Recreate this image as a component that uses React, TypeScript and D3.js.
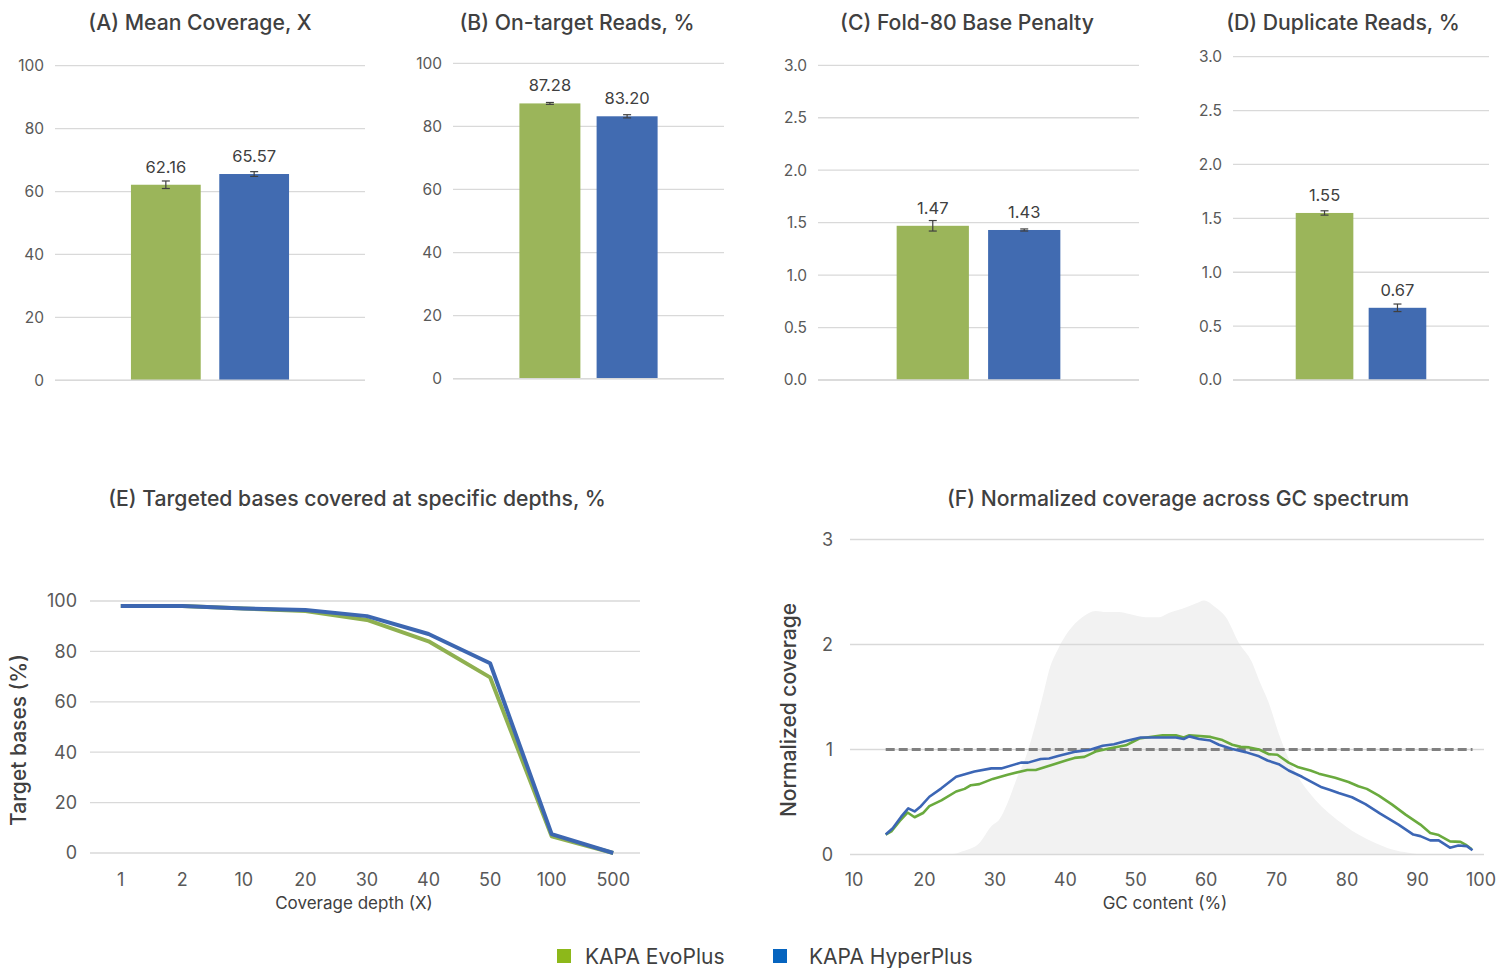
import React from 'react';
import * as d3 from 'd3';

// ---------- DATA ----------
const seriesNames = ['KAPA EvoPlus', 'KAPA HyperPlus'];

const meanCoverage = [62.16, 65.57];
const meanCoverageErr = [1.2, 0.75];
const onTargetReads = [87.28, 83.2];
const onTargetErr = [0.3, 0.5];
const fold80Penalty = [1.47, 1.43];
const fold80Err = [0.05, 0.01];
const duplicateReads = [1.55, 0.67];
const duplicateErr = [0.02, 0.035];

const ticks100 = [0, 20, 40, 60, 80, 100];
const ticks3 = [0, 0.5, 1, 1.5, 2, 2.5, 3];

const depthLabels = ['1', '2', '10', '20', '30', '40', '50', '100', '500'];
const depthEvoPlus = [98, 98, 97, 96, 92.5, 84, 69.7, 6.6, 0];
const depthHyperPlus = [98, 98, 97, 96.4, 94, 86.9, 75.3, 7.5, 0];

const gcTicks = [10, 20, 30, 40, 50, 60, 70, 80, 90, 100];
const normTicks = [0, 1, 2, 3];

const gcEvoPlusX = [14.5, 15.3, 16.5, 17.6, 18.6, 19.8, 20.7, 22.4, 24.5, 25.7, 26.6, 27.8, 29.7, 31.8, 34.6, 35.8, 38.4, 40.3, 41.3, 42.7, 44.3, 46.2, 48.6, 50.5, 53.8, 55.7, 56.8, 57.6, 60.6, 62.3, 63.7, 64.9, 66.1, 67.5, 68.9, 70.1, 71.7, 73.1, 74.8, 76.0, 78.3, 80.2, 81.6, 82.8, 84.5, 86.4, 88.3, 90.4, 91.8, 93.0, 94.6, 96.1, 96.8, 97.7];
const gcEvoPlusY = [0.19, 0.22, 0.32, 0.4, 0.355, 0.395, 0.46, 0.515, 0.6, 0.625, 0.66, 0.67, 0.72, 0.76, 0.805, 0.805, 0.86, 0.9, 0.92, 0.93, 0.98, 1.01, 1.04, 1.105, 1.135, 1.135, 1.115, 1.135, 1.12, 1.09, 1.045, 1.025, 1.02, 1.0, 0.955, 0.95, 0.875, 0.83, 0.8, 0.77, 0.73, 0.69, 0.65, 0.625, 0.56, 0.475, 0.38, 0.285, 0.205, 0.185, 0.125, 0.12, 0.095, 0.05];

const gcHyperPlusX = [14.5, 15.5, 16.7, 17.7, 18.6, 19.5, 20.7, 22.4, 24.5, 27.1, 29.5, 30.9, 33.7, 34.7, 36.5, 37.7, 39.1, 41.5, 43.4, 45.3, 46.9, 48.6, 50.7, 53.3, 55.7, 56.8, 57.6, 59.0, 60.6, 61.8, 63.7, 65.6, 67.5, 68.7, 70.3, 71.7, 73.6, 76.4, 77.6, 78.8, 80.7, 82.6, 84.7, 87.3, 89.4, 90.4, 91.8, 93.0, 94.6, 95.8, 97.0, 97.8];
const gcHyperPlusY = [0.19, 0.25, 0.36, 0.44, 0.41, 0.46, 0.55, 0.63, 0.74, 0.79, 0.82, 0.82, 0.875, 0.875, 0.91, 0.915, 0.94, 0.98, 0.995, 1.035, 1.05, 1.08, 1.115, 1.115, 1.115, 1.1, 1.125, 1.1, 1.085, 1.045, 1.005, 0.975, 0.935, 0.895, 0.86, 0.8, 0.74, 0.64, 0.615, 0.585, 0.545, 0.48, 0.39, 0.285, 0.19, 0.175, 0.135, 0.135, 0.065, 0.085, 0.08, 0.04];

const gcDistX = [15, 20, 23.6, 25.4, 27.8, 29.5, 30.6, 31.8, 33.2, 34.4, 35.8, 37.0, 37.7, 39.1, 40.5, 42.4, 44.3, 45.8, 47.6, 49.1, 51.4, 53.3, 54.7, 56.6, 58.5, 59.7, 61.3, 62.8, 64.6, 66.5, 67.5, 68.9, 70.3, 72.2, 73.6, 75.5, 77.4, 79.8, 81.6, 84.0, 86.4, 88.7, 90.6, 98];
const gcDistY = [0, 0, 0, 0.03, 0.11, 0.27, 0.33, 0.49, 0.74, 0.93, 1.25, 1.565, 1.755, 1.975, 2.13, 2.26, 2.32, 2.31, 2.31, 2.29, 2.26, 2.26, 2.3, 2.34, 2.39, 2.42, 2.355, 2.26, 2.02, 1.83, 1.66, 1.44, 1.15, 0.84, 0.68, 0.52, 0.395, 0.27, 0.19, 0.11, 0.047, 0.016, 0, 0];
const gcReference = [14.5, 97.8];

// ---------- STYLE ----------
const FONT = 'Inter, "Noto Sans", "DejaVu Sans", sans-serif';
const GRID = '#D9D9D9';
const TITLE = '#404040';
const TICK = '#595959';
const BAR_COLORS = ['#9BB55A', '#416BB1'];
const E_COLORS = ['#8FB050', '#3D67B1'];
const F_COLORS = ['#6AAA3E', '#3C66B5'];
const LEGEND_COLORS = ['#8DB81A', '#0664BF'];

type BarCfg = {
  title: string; values: number[]; errors: number[]; ticks: number[]; max: number; decimals: number;
  left: number; right: number; top: number; bottom: number; titleX: number; labelRight: number;
};

const barPanels: BarCfg[] = [
  { title: '(A) Mean Coverage, X', values: meanCoverage, errors: meanCoverageErr, ticks: ticks100, max: 100, decimals: 0, left: 55, right: 365, top: 65.7, bottom: 380.3, titleX: 200, labelRight: 44 },
  { title: '(B) On-target Reads, %', values: onTargetReads, errors: onTargetErr, ticks: ticks100, max: 100, decimals: 0, left: 453, right: 724, top: 63.3, bottom: 378.7, titleX: 577, labelRight: 442 },
  { title: '(C) Fold-80 Base Penalty', values: fold80Penalty, errors: fold80Err, ticks: ticks3, max: 3, decimals: 1, left: 818, right: 1139, top: 65.3, bottom: 380, titleX: 967, labelRight: 807 },
  { title: '(D) Duplicate Reads, %', values: duplicateReads, errors: duplicateErr, ticks: ticks3, max: 3, decimals: 1, left: 1233, right: 1489, top: 56.7, bottom: 380, titleX: 1343, labelRight: 1222 },
];

function BarPanel({ cfg }: { cfg: BarCfg }) {
  const y = d3.scaleLinear().domain([0, cfg.max]).range([cfg.bottom, cfg.top]);
  const x = d3.scaleBand<string>().domain(seriesNames).range([cfg.left, cfg.right]).paddingInner(0.21).paddingOuter(0.86);
  const fmt = d3.format(cfg.decimals ? '.1f' : 'd');
  return (
    <g>
      <text x={cfg.titleX} y={30} textAnchor="middle" fontSize={21.2} fontWeight={500} fill={TITLE}>{cfg.title}</text>
      {cfg.ticks.map((t) => (
        <g key={t}>
          <line x1={cfg.left} x2={cfg.right} y1={y(t)} y2={y(t)} stroke={GRID} strokeWidth={1.3} />
          <text x={cfg.labelRight} y={y(t)} dy="0.35em" textAnchor="end" fontSize={15.5} fill={TICK}>{fmt(t)}</text>
        </g>
      ))}
      {seriesNames.map((s, i) => {
        const v = cfg.values[i];
        const e = cfg.errors[i];
        const bx = x(s)!;
        const cx = bx + x.bandwidth() / 2;
        return (
          <g key={s}>
            <rect x={bx} y={y(v)} width={x.bandwidth()} height={y(0) - y(v)} fill={BAR_COLORS[i]} />
            <line x1={cx} x2={cx} y1={y(v + e)} y2={y(v - e)} stroke="#404040" strokeWidth={1.2} />
            <line x1={cx - 4} x2={cx + 4} y1={y(v + e)} y2={y(v + e)} stroke="#404040" strokeWidth={1.2} />
            <line x1={cx - 4} x2={cx + 4} y1={y(v - e)} y2={y(v - e)} stroke="#404040" strokeWidth={1.2} />
            <text x={cx} y={y(v) - 12} textAnchor="middle" fontSize={16.5} fill={TITLE}>{v.toFixed(2)}</text>
          </g>
        );
      })}
      <line x1={cfg.left} x2={cfg.right} y1={y(0)} y2={y(0)} stroke={GRID} strokeWidth={1.5} />
    </g>
  );
}

function PanelE() {
  const left = 90, right = 640, top = 601, bottom = 853;
  const x = d3.scalePoint<string>().domain(depthLabels).range([left, right + 4]).padding(0.5);
  const y = d3.scaleLinear().domain([0, 100]).range([bottom, top]);
  const line = d3.line<number>().x((_, i) => x(depthLabels[i])!).y((d) => y(d));
  return (
    <g>
      <text x={357} y={506} textAnchor="middle" fontSize={21.2} fontWeight={500} fill={TITLE}>(E) Targeted bases covered at specific depths, %</text>
      {ticks100.map((t) => (
        <g key={t}>
          <line x1={left} x2={right} y1={y(t)} y2={y(t)} stroke={GRID} strokeWidth={1.3} />
          <text x={77} y={y(t)} dy="0.35em" textAnchor="end" fontSize={18} fill={TICK}>{t}</text>
        </g>
      ))}
      {depthLabels.map((d) => (
        <text key={d} x={x(d)} y={886} textAnchor="middle" fontSize={18} fill={TICK}>{d}</text>
      ))}
      <path d={line(depthEvoPlus)!} fill="none" stroke={E_COLORS[0]} strokeWidth={4} strokeLinejoin="round" />
      <path d={line(depthHyperPlus)!} fill="none" stroke={E_COLORS[1]} strokeWidth={4} strokeLinejoin="round" />
      <text x={354} y={909} textAnchor="middle" fontSize={17} fill={TITLE}>Coverage depth (X)</text>
      <text transform={`translate(26,740) rotate(-90)`} textAnchor="middle" fontSize={21} fontWeight={500} fill={TITLE}>Target bases (%)</text>
    </g>
  );
}

function PanelF() {
  const top = 539.5, bottom = 854.5;
  const x = d3.scaleLinear().domain([10, 100]).range([854, 1488]);
  const y = d3.scaleLinear().domain([0, 3]).range([bottom, top]);
  const area = d3.area<number>().x((_, i) => x(gcDistX[i])).y0(y(0)).y1((d) => y(d)).curve(d3.curveMonotoneX);
  const mkLine = (xs: number[]) => d3.line<number>().x((_, i) => x(xs[i])).y((d) => y(d));
  return (
    <g>
      <text x={1178} y={506} textAnchor="middle" fontSize={21.2} fontWeight={500} fill={TITLE}>(F) Normalized coverage across GC spectrum</text>
      <path d={area(gcDistY)!} fill="#F2F2F2" />
      {normTicks.map((t) => (
        <g key={t}>
          <line x1={850} x2={1484} y1={y(t)} y2={y(t)} stroke={GRID} strokeWidth={1.3} />
          <text x={833} y={y(t)} dy="0.35em" textAnchor="end" fontSize={18} fill={TICK}>{t}</text>
        </g>
      ))}
      {gcTicks.map((t) => (
        <text key={t} x={Math.min(x(t), 1481)} y={886} textAnchor="middle" fontSize={18} fill={TICK}>{t}</text>
      ))}
      <line x1={x(gcReference[0])} x2={x(gcReference[1])} y1={y(1)} y2={y(1)} stroke="#808080" strokeWidth={3} strokeDasharray="9,4" />
      <path d={mkLine(gcEvoPlusX)(gcEvoPlusY)!} fill="none" stroke={F_COLORS[0]} strokeWidth={2.6} strokeLinejoin="round" />
      <path d={mkLine(gcHyperPlusX)(gcHyperPlusY)!} fill="none" stroke={F_COLORS[1]} strokeWidth={2.6} strokeLinejoin="round" />
      <text x={1165} y={909} textAnchor="middle" fontSize={17} fill={TITLE}>GC content (%)</text>
      <text transform={`translate(796,710) rotate(-90)`} textAnchor="middle" fontSize={21} fontWeight={500} fill={TITLE}>Normalized coverage</text>
    </g>
  );
}

function Legend() {
  const items = [
    { x: 557, tx: 585, label: seriesNames[0], color: LEGEND_COLORS[0] },
    { x: 773, tx: 809, label: seriesNames[1], color: LEGEND_COLORS[1] },
  ];
  return (
    <g>
      {items.map((it) => (
        <g key={it.label}>
          <rect x={it.x} y={949} width={14} height={14} fill={it.color} />
          <text x={it.tx} y={964} fontSize={21} fill={TITLE}>{it.label}</text>
        </g>
      ))}
    </g>
  );
}

export default function App() {
  return (
    <svg width={1507} height={968} style={{ position: 'absolute', left: 0, top: 0, background: '#fff' }} fontFamily={FONT}>
      <rect width={1507} height={968} fill="#fff" />
      {barPanels.map((cfg) => <BarPanel key={cfg.title} cfg={cfg} />)}
      <PanelE />
      <PanelF />
      <Legend />
    </svg>
  );
}
